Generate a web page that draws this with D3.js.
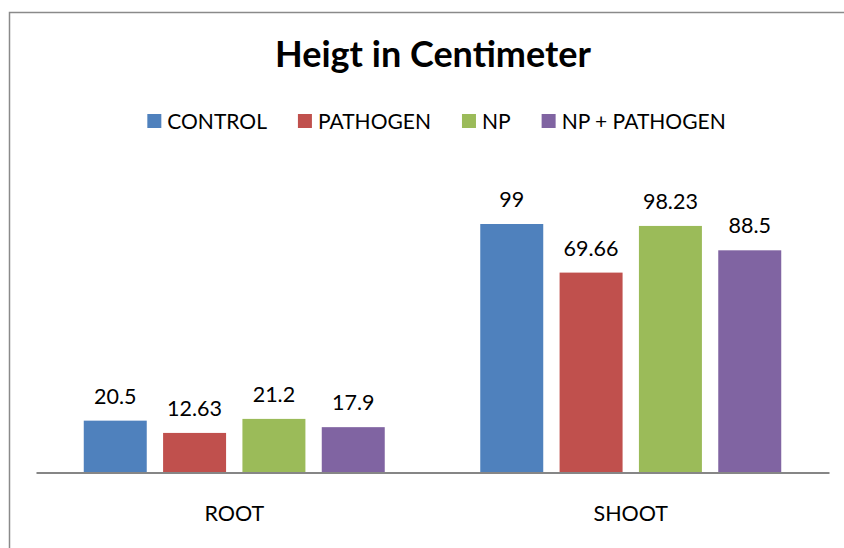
<!DOCTYPE html>
<html>
<head>
<meta charset="utf-8">
<script src="https://cdn.jsdelivr.net/npm/d3@7"></script>
<style>
  body { margin: 0; background: #fff; overflow: hidden; }
  svg { display: block; }
  text { font-family: Lato, "Open Sans", sans-serif; fill: #000; }
</style>
</head>
<body>
<div id="chart"></div>
<script>
"use strict";

//----------------------------DATA------------------------------//
const categories = ["ROOT", "SHOOT"];
const seriesNames = ["CONTROL", "PATHOGEN", "NP", "NP + PATHOGEN"];
const seriesColors = ["#4F81BD", "#C0504D", "#9BBB59", "#8064A2"];
// data labels as printed on the chart
const controlLabels = ["20.5", "99"];
const pathogenLabels = ["12.63", "69.66"];
const npLabels = ["21.2", "98.23"];
const npPathogenLabels = ["17.9", "88.5"];
// bar heights as drawn (the red bars are drawn taller than their labels)
const controlValues = [20.5, 99];
const pathogenValues = [15.6, 79.6];
const npValues = [21.2, 98.23];
const npPathogenValues = [17.9, 88.5];

const values = [controlValues, pathogenValues, npValues, npPathogenValues];
const labels = [controlLabels, pathogenLabels, npLabels, npPathogenLabels];

//----------------------------SVG-------------------------------//
const width = 844;
const height = 548;
const plot = { left: 36, right: 829, top: 171.4, bottom: 472 };

const svg = d3.select("#chart").append("svg")
    .attr("width", width)
    .attr("height", height);

// chart frame: only the left and top edges show in the crop
svg.append("path")
    .attr("d", `M9.5,${height} V12.5 H${width}`)
    .attr("fill", "none")
    .attr("stroke", "#8a8a8a")
    .attr("stroke-width", 1.5);

//---------------------------SCALES-----------------------------//
const x0 = d3.scaleBand()
    .domain(categories)
    .range([plot.left, plot.right]);

const x1 = d3.scaleBand()
    .domain(seriesNames)
    .range([0, x0.bandwidth()])
    .paddingInner(0.206)
    .paddingOuter(0.602);

const y = d3.scaleLinear()
    .domain([0, 120])
    .range([plot.bottom, plot.top]);

//----------------------------TITLE-----------------------------//
svg.append("text")
    .attr("x", 433)
    .attr("y", 67)
    .attr("text-anchor", "middle")
    .style("font-size", "36px")
    .style("font-weight", "bold")
    .text("Heigt in Centimeter");

//---------------------------LEGEND-----------------------------//
const legend = svg.append("g");
let lx = 0;
seriesNames.forEach((name, i) => {
    const item = legend.append("g").attr("transform", `translate(${lx},0)`);
    item.append("rect")
        .attr("x", 0)
        .attr("y", 114)
        .attr("width", 14)
        .attr("height", 14)
        .attr("fill", seriesColors[i]);
    const t = item.append("text")
        .attr("x", 20)
        .attr("y", 129)
        .style("font-size", "21px")
        .text(name);
    lx += 20 + t.node().getComputedTextLength() + 31;
});
const legendWidth = lx - 31;
legend.attr("transform", `translate(${436.5 - legendWidth / 2},0)`);

//----------------------------BARS------------------------------//
const groups = svg.selectAll("g.cat")
    .data(categories)
    .enter()
    .append("g")
    .attr("class", "cat")
    .attr("transform", d => `translate(${x0(d)},0)`);

groups.each(function (cat, ci) {
    const g = d3.select(this);
    seriesNames.forEach((s, si) => {
        const v = values[si][ci];
        g.append("rect")
            .attr("x", x1(s))
            .attr("y", y(v))
            .attr("width", x1.bandwidth())
            .attr("height", y(0) - y(v))
            .attr("fill", seriesColors[si]);
        g.append("text")
            .attr("x", x1(s) + x1.bandwidth() / 2)
            .attr("y", y(v) - 17)
            .attr("text-anchor", "middle")
            .style("font-size", "21.5px")
            .text(labels[si][ci]);
    });
});

//----------------------------AXIS------------------------------//
const xAxis = svg.append("g")
    .attr("transform", `translate(0,${plot.bottom + 0.5})`)
    .call(d3.axisBottom(x0).tickSize(0).tickPadding(33));

xAxis.select(".domain")
    .attr("stroke", "#868686")
    .attr("stroke-width", 2);

xAxis.selectAll(".tick text")
    .style("font-family", "Lato, 'Open Sans', sans-serif")
    .style("font-size", "21.5px")
    .attr("fill", "#000");
</script>
</body>
</html>
